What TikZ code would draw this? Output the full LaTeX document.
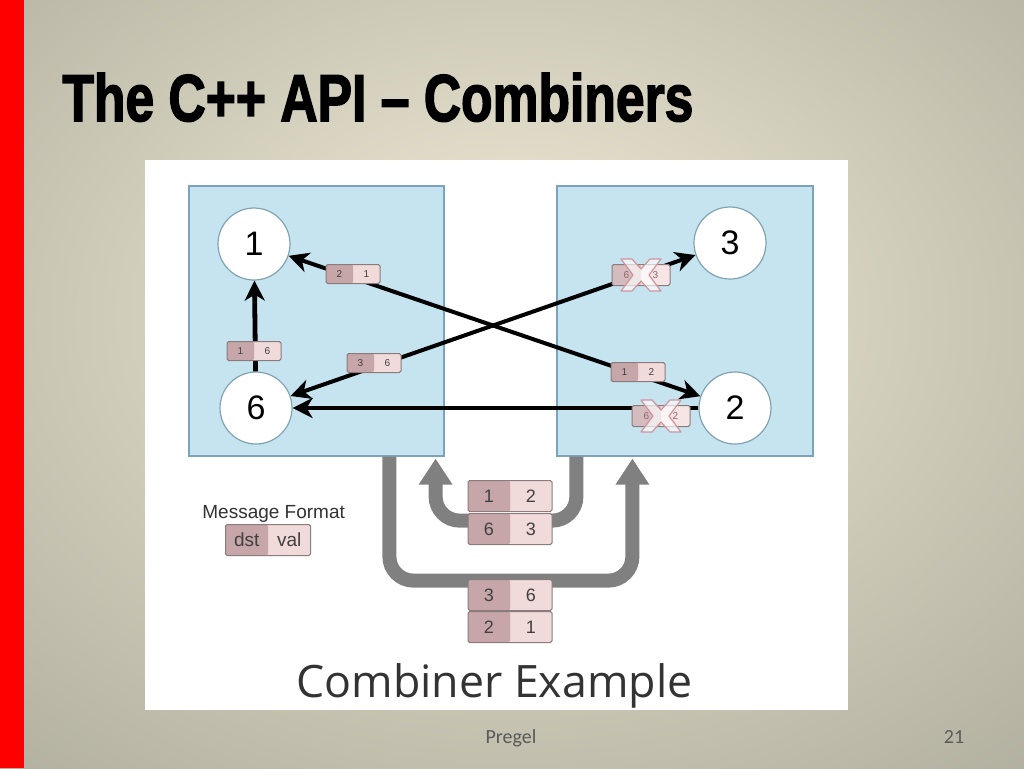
\documentclass[tikz,border=0pt]{standalone}
\usepackage{fontspec}
\setmainfont{Liberation Sans}
\newfontfamily\titlefont[FakeBold=2.5]{Liberation Sans}
\newfontfamily\capfont{Open Sans}
\newfontfamily\footfont{Carlito}
\usepackage{graphicx}
\usetikzlibrary{arrows.meta,positioning,calc}
\definecolor{bgIn}{HTML}{E2DECA}
\definecolor{bgMid}{HTML}{BFBCAB}
\definecolor{bgOut}{HTML}{929185}
\definecolor{slideRed}{HTML}{FF0000}
\definecolor{boxFill}{HTML}{C6E4EF}
\definecolor{boxBd}{HTML}{7DA3BC}
\definecolor{vtxBd}{HTML}{7FA3B3}
\definecolor{msgDst}{HTML}{C6A6A9}
\definecolor{msgVal}{HTML}{F1DADA}
\definecolor{msgBd}{HTML}{8C7B7D}
\definecolor{busGray}{HTML}{808080}
\definecolor{xBd}{HTML}{D0939B}
\pgfdeclareradialshading{slidebg}{\pgfpoint{0bp}{6bp}}{%
  color(0bp)=(bgIn); color(8bp)=(bgIn); color(30bp)=(bgMid); color(58bp)=(bgOut); color(75bp)=(bgOut)}
\newcommand{\cells}[3]{\makebox[#1]{#2}\makebox[#1]{#3}}
\newcommand{\crossmsg}[1]{%
  \draw[xmark, shift={(#1.center)}] (-20,-16) -- (-9,-16) -- (0,-6) -- (9,-16) -- (20,-16)
    -- (8,0) -- (20,16) -- (9,16) -- (0,6) -- (-9,16) -- (-20,16) -- (-8,0) -- cycle;}
\tikzset{
  msgtip/.tip={Stealth[length=10pt,width=10pt,inset=3pt]},
  region/.style={rectangle, draw=boxBd, fill=boxFill, line width=0.6pt, inner sep=0pt},
  vertex/.style={circle, draw=vtxBd, fill=white, line width=0.6pt,
    minimum size=36pt, inner sep=0pt, font=\fontsize{17}{17}\selectfont},
  msg/.style={rectangle, draw=msgBd, fill=msgVal, line width=0.5pt, inner sep=0pt,
    rounded corners=0.8pt, text=black!75,
    path picture={\fill[msgDst] (path picture bounding box.south west)
      rectangle (path picture bounding box.north);}},
  msgsm/.style={msg, minimum height=9.5pt, font=\fontsize{5}{5}\selectfont},
  msgbig/.style={msg, minimum height=15.5pt, font=\fontsize{9}{9}\selectfont},
  msgx/.style={msgsm, minimum height=10.5pt, fill=msgVal!70, text=xBd!70!black,
    path picture={\fill[msgDst!75] (path picture bounding box.south west)
      rectangle (path picture bounding box.north);}},
  xmark/.style={fill=white, fill opacity=0.65, draw=xBd, line width=0.6pt, line join=round},
  flow/.style={-msgtip, line width=2pt, draw=black},
  flowboth/.style={flow, msgtip-msgtip},
  bus/.style={line width=7pt, draw=busGray, rounded corners=12pt,
    -{Triangle[length=13pt,width=16pt]}},
  label/.style={inner sep=0pt, text=black!80}
}
\begin{document}
\begin{tikzpicture}[x=0.5pt, y=-0.5pt]
  \useasboundingbox (0,0) rectangle (1024,768);
  % slide
  \shade[shading=slidebg] (0,0) rectangle (1024,768);
  \fill[slideRed] (0,0) rectangle (24,768);
  \node[anchor=base west, inner sep=0pt] (title) at (62,121)
    {\resizebox{315.5pt}{24pt}{\titlefont\bfseries The C++ API – Combiners}};
  \fill[white] (145,160) rectangle (848,710);

  % --- workers
  \node[region, minimum width=127.5pt, minimum height=135pt] (lbox) at (316.5,321) {};
  \node[region, minimum width=128pt, minimum height=135pt] (rbox) at (685,321) {};

  % --- vertices
  \node[vertex] (n1) at (254,244) {1};
  \node[vertex] (n6) at (256,408) {6};
  \node[vertex] (n3) at (730,243) {3};
  \node[vertex] (n2) at (735,408) {2};

  % --- messages between vertices
  \draw[flow, line width=2.4pt] (n6) -- (n1);
  \draw[flowboth] (n1) -- (n2);
  \draw[flowboth] (n6) -- (n3);
  \draw[flow] (n2) -- (n6);

  \node[msgsm] (m16) at (254,351) {\cells{13.5pt}{1}{6}};
  \node[msgsm] (m21) at (353,274) {\cells{13.5pt}{2}{1}};
  \node[msgsm] (m36) at (374,363) {\cells{13.5pt}{3}{6}};
  \node[msgsm] (m12) at (638,372) {\cells{13.5pt}{1}{2}};
  \node[msgx]  (m63) at (641,275) {\cells{14.5pt}{6}{3}};
  \node[msgx]  (m62) at (661,416) {\cells{14.5pt}{6}{2}};
  \crossmsg{m63}
  \crossmsg{m62}

  % --- combined traffic between workers
  \draw[bus] ($(rbox.south west)+(20,0)$) -- ++(0,64) -| ($(lbox.south east)+(-9,2)$);
  \draw[bus] ($(lbox.south west)+(201,0)$) -- ++(0,124) -| ($(rbox.south west)+(76,2)$);

  \node[msgbig] (b12) at (510,496) {\cells{21pt}{1}{2}};
  \node[msgbig] (b63) at (510,529) {\cells{21pt}{6}{3}};
  \node[msgbig] (b36) at (510,595) {\cells{21pt}{3}{6}};
  \node[msgbig] (b21) at (510,627) {\cells{21pt}{2}{1}};

  % legend
  \node[label, anchor=base west, font=\fontsize{9.5}{9.5}\selectfont] (fmt) at (202,518) {Message Format};
  \node[msgbig, font=\fontsize{9.5}{9.5}\selectfont] (dv) at (268,540) {\cells{21.25pt}{dst}{val}};

  \node[label, anchor=base west, text=black!80] (cap) at (296,697)
    {\resizebox{198pt}{!}{\capfont Combiner Example}};

  % footer
  \node[label, anchor=base, font=\footfont\fontsize{10}{10}\selectfont, text=black!65] (foot) at (511,743) {Pregel};
  \node[label, anchor=base, font=\footfont\fontsize{10}{10}\selectfont, text=black!65] (page) at (954,743) {21};
\end{tikzpicture}
\end{document}
